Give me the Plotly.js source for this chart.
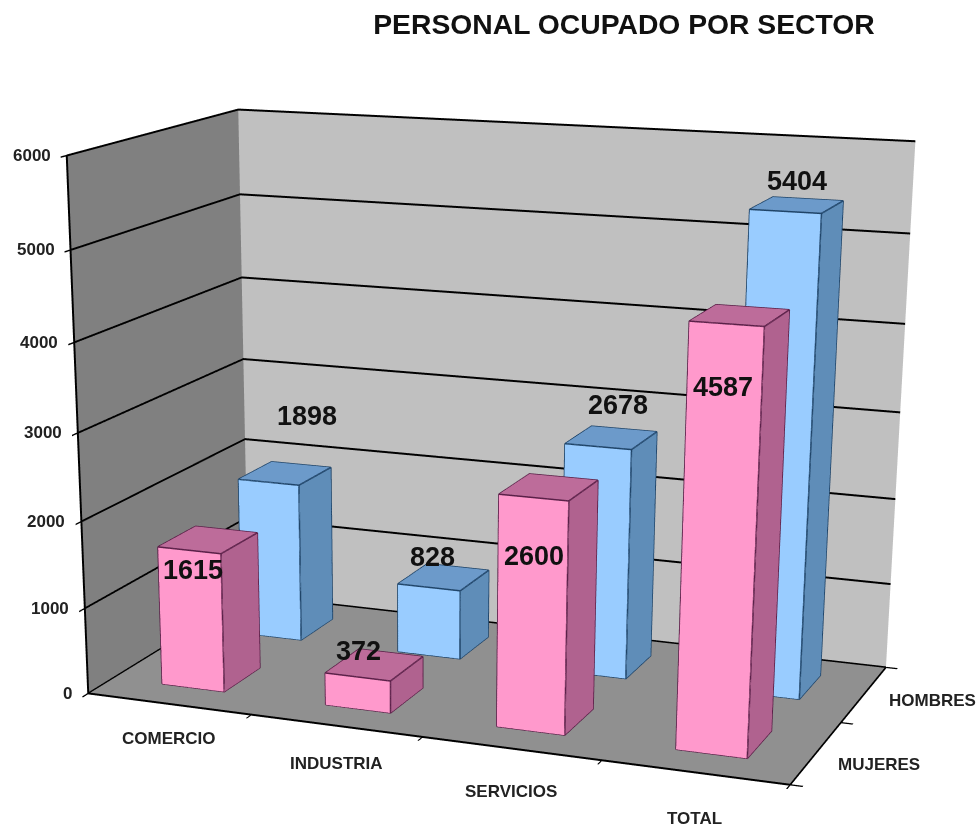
<!DOCTYPE html>
<html><head><meta charset="utf-8">
<script src="https://cdn.plot.ly/plotly-3.0.1.min.js"></script>
<style>html,body{margin:0;padding:0;background:#fff;overflow:hidden;width:978px;height:827px}
#w{position:relative;width:978px;height:827px;overflow:hidden}
#c{position:absolute;left:-214px;top:-447px;width:1192px;height:2395px}</style>
</head><body><div id="w"><div id="c"></div></div>
<script>
const categories = ["COMERCIO","INDUSTRIA","SERVICIOS","TOTAL"];
const seriesNames = ["MUJERES","HOMBRES"];
const mujeres = [1615,372,2600,4587];
const hombres = [1898,828,2678,5404];
const zTicks = [0,1000,2000,3000,4000,5000,6000];

const W=1192,H=2395,OX=214,OY=447;
const barX0=0.306, barW=0.385, depth=[[0.29,0.74],[1.29,1.73]];
const mujShift=[[4,-20],[1,26],[0,-58],[-4,-63]];
const homShift=[[38,66],[4,30],[20,42],[12,30]];
const catShift=[-35,-38,-43,-46];
const serShift=[[20,-12],[23,-6]];

function barMesh(vals, s, cols){
  const X=[],Y=[],Z=[],I=[],J=[],K=[],F=[];
  const lx=[],ly=[],lz=[];
  vals.forEach((v,c)=>{
    const x0=c+barX0,x1=x0+barW,y0=depth[s][0],y1=depth[s][1];
    const b=X.length;
    [[x0,y0,0],[x1,y0,0],[x1,y1,0],[x0,y1,0],[x0,y0,v],[x1,y0,v],[x1,y1,v],[x0,y1,v]].forEach(p=>{X.push(p[0]);Y.push(p[1]);Z.push(p[2]);});
    const quad=(a,b2,c2,d,col)=>{I.push(b+a,b+a);J.push(b+b2,b+c2);K.push(b+c2,b+d);F.push(col,col);};
    quad(0,1,5,4,cols.front);quad(1,2,6,5,cols.side);quad(4,5,6,7,cols.top);
    quad(2,3,7,6,cols.side);quad(3,0,4,7,cols.side);quad(0,1,2,3,cols.side);
    const path=[[x0,y0,0],[x1,y0,0],[x1,y0,v],[x0,y0,v],[x0,y0,0],null,[x1,y0,0],[x1,y1,0],[x1,y1,v],[x1,y0,v],null,[x0,y0,v],[x0,y1,v],[x1,y1,v]];
    path.forEach(p=>{lx.push(p?p[0]:null);ly.push(p?p[1]:null);lz.push(p?p[2]:null);});
    lx.push(null);ly.push(null);lz.push(null);
  });
  return [{type:'mesh3d',x:X,y:Y,z:Z,i:I,j:J,k:K,facecolor:F,flatshading:true,hoverinfo:'skip',
    lighting:{ambient:1,diffuse:0,specular:0,roughness:1,fresnel:0},showscale:false,name:seriesNames[s]},
   {type:'scatter3d',mode:'lines',x:lx,y:ly,z:lz,line:{color:cols.edge,width:3},hoverinfo:'skip',showlegend:false}];
}
const pink={front:'#FF99CC',side:'#B0628F',top:'#BD6C9A',edge:'#5a2048'};
const blue={front:'#99CCFF',side:'#5F8DB8',top:'#6C9ACA',edge:'#1f4468'};
const traces=[...barMesh(mujeres,0,pink),...barMesh(hombres,1,blue)];

const labelFont={family:'Liberation Sans, Arial, sans-serif',size:27,color:'#111'};
const tickFont={family:'Liberation Sans, Arial, sans-serif',size:17,color:'#222'};
const ann=[];
mujeres.forEach((v,c)=>ann.push({x:c+barX0+barW/2,y:depth[0][0],z:v,text:'<b>'+v+'</b>',showarrow:false,font:labelFont,xshift:mujShift[c][0],yshift:mujShift[c][1]}));
hombres.forEach((v,c)=>ann.push({x:c+barX0+barW/2,y:depth[1][0],z:v,text:'<b>'+v+'</b>',showarrow:false,font:labelFont,xshift:homShift[c][0],yshift:homShift[c][1]}));
zTicks.forEach(v=>ann.push({x:0,y:0,z:v,text:'<b>'+v+'</b>',showarrow:false,font:tickFont,xanchor:'right',xshift:-14}));
categories.forEach((t,c)=>ann.push({x:c+0.5,y:0,z:0,text:'<b>'+t+'</b>',showarrow:false,font:tickFont,yshift:catShift[c]}));
seriesNames.forEach((t,s)=>ann.push({x:4,y:s+0.5,z:0,text:'<b>'+t+'</b>',showarrow:false,font:tickFont,xanchor:'left',xshift:serShift[s][0],yshift:serShift[s][1]}));

const axBase={showticklabels:false,title:{text:''},showspikes:false,zeroline:false,showline:true,linecolor:'#000',linewidth:4,ticks:'outside',ticklen:10,tickwidth:3,tickcolor:'#000',showbackground:true};
const layout={
  width:W,height:H,margin:{l:0,r:0,t:0,b:0,pad:0},paper_bgcolor:'rgba(0,0,0,0)',showlegend:false,
  title:{text:'<b>PERSONAL OCUPADO POR SECTOR</b>',x:(624+OX)/W,xref:'paper',xanchor:'center',y:1-(24+OY)/H,yanchor:'middle',font:{family:'Liberation Sans, Arial, sans-serif',size:28.3,color:'#111'}},
  scene:{
    domain:{x:[0,1],y:[0,1]},dragmode:'orbit',
    xaxis:{...axBase,range:[0,4],tickvals:[0,1,2,3,4],showgrid:false,backgroundcolor:'#808080'},
    yaxis:{...axBase,range:[0,2],tickvals:[0,1,2],showgrid:false,backgroundcolor:'#C0C0C0'},
    zaxis:{...axBase,range:[0,6000],tickvals:zTicks,showgrid:true,gridcolor:'#000',gridwidth:4,backgroundcolor:'#909090'},
    aspectmode:'manual',aspectratio:{x:1,y:0.5259,z:0.7386},
    camera:{eye:{x:1.3409,y:-3.6318,z:0.8828},center:{x:-0.0863,y:-0.1959,z:-0.4214},up:{x:-0.1227,y:0.3074,z:0.9437},projection:{type:'perspective'}},
    annotations:ann
  }
};
Plotly.newPlot('c',traces,layout,{displayModeBar:false});
</script></body></html>
